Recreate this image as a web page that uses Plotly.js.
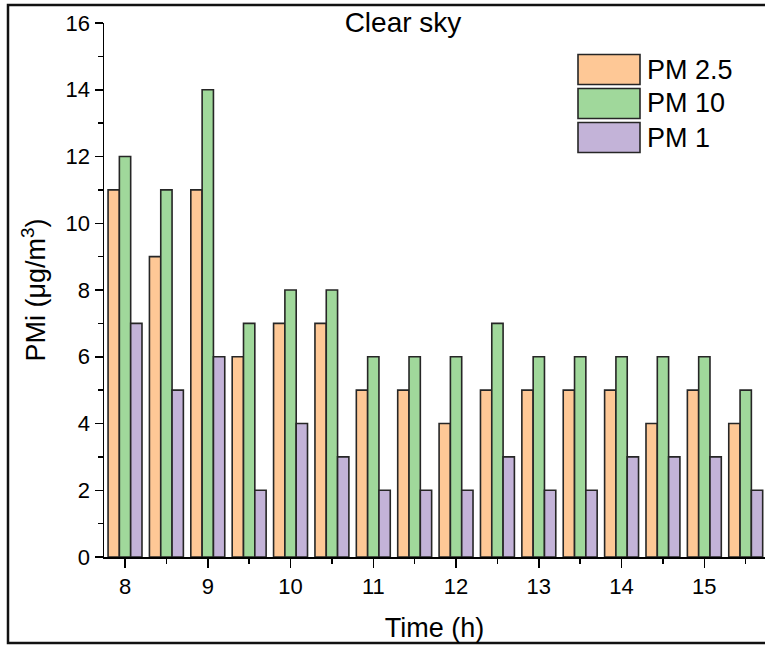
<!DOCTYPE html>
<html>
<head>
<meta charset="utf-8">
<script src="https://cdn.plot.ly/plotly-3.0.1.min.js"></script>
<style>
  html, body { margin: 0; padding: 0; background: #fff; }
  #chart { width: 765px; height: 646px; }
</style>
</head>
<body>
<div id="chart"></div>
<script>
// ---- data ----
const times = [8, 8.5, 9, 9.5, 10, 10.5, 11, 11.5, 12, 12.5, 13, 13.5, 14, 14.5, 15, 15.5];
const pm25  = [11, 9, 11, 6, 7, 7, 5, 5, 4, 5, 5, 5, 5, 4, 5, 4];
const pm10  = [12, 11, 14, 7, 8, 8, 6, 6, 6, 7, 6, 6, 6, 6, 6, 5];
const pm1   = [7, 5, 6, 2, 4, 3, 2, 2, 2, 3, 2, 2, 3, 3, 3, 2];
const seriesNames = ['PM 2.5', 'PM 10', 'PM 1'];
const xTickVals = [8, 9, 10, 11, 12, 13, 14, 15];
const yTickVals = [0, 2, 4, 6, 8, 10, 12, 14, 16];

// ---- styling ----
const FONT = 'Liberation Sans, Arial, Helvetica, sans-serif';
const colors = ['#FEC896', '#A0D89B', '#C3B3D8'];
const edge = { color: '#262626', width: 1.6 };
const seriesValues = [pm25, pm10, pm1];

const traces = seriesValues.map((vals, i) => ({
  type: 'bar',
  x: times,
  y: vals,
  name: seriesNames[i],
  marker: { color: colors[i], line: edge },
  showlegend: false,
  hoverinfo: 'x+y+name'
}));

// plot area in pixels: x 104..765, y 23..557
const L = 104, R = 765, T = 23, B = 557;
const px = v => (v - L) / (R - L);
const py = v => (B - v) / (B - T);

// custom legend (large swatches like the original)
const legendCenters = [69.5, 103.5, 137.5];
const shapes = [];
const annotations = [];
legendCenters.forEach((c, i) => {
  shapes.push({
    type: 'rect', xref: 'paper', yref: 'paper',
    x0: px(578), x1: px(640), y0: py(c + 15), y1: py(c - 15),
    fillcolor: colors[i], line: { color: '#262626', width: 1.6 }
  });
  annotations.push({
    xref: 'paper', yref: 'paper', x: px(645), y: py(c),
    xanchor: 'left', yanchor: 'middle', showarrow: false,
    text: seriesNames[i], font: { family: FONT, size: 27, color: '#000' }
  });
});
// outer frame
shapes.push({
  type: 'rect', xref: 'paper', yref: 'paper', layer: 'above',
  x0: px(8), x1: px(770), y0: py(643), y1: py(5),
  line: { color: '#111', width: 2.5 }, fillcolor: 'rgba(0,0,0,0)'
});

const layout = {
  width: 765, height: 646,
  margin: { l: L, r: 765 - R, t: T, b: 646 - B, pad: 0 },
  paper_bgcolor: '#fff', plot_bgcolor: '#fff',
  font: { family: FONT, color: '#000' },
  barmode: 'group', bargap: 0.18, bargroupgap: 0,
  showlegend: false,
  title: {
    text: 'Clear sky', xref: 'container', yref: 'container',
    x: 403 / 765, y: 1 - 22 / 646, xanchor: 'center', yanchor: 'middle',
    font: { family: FONT, size: 28, color: '#000' }
  },
  xaxis: {
    range: [7.746, 15.733], tickmode: 'array', tickvals: xTickVals,
    ticks: 'outside', ticklen: 9, tickwidth: 1.5, tickcolor: '#000',
    minor: { dtick: 0.5, tick0: 8, ticks: 'outside', ticklen: 5, tickwidth: 1.5, tickcolor: '#000' },
    showline: true, linecolor: '#000', linewidth: 1.5,
    showgrid: false, zeroline: false,
    tickfont: { family: FONT, size: 22, color: '#000' },
    title: { text: 'Time (h)', standoff: 20, font: { family: FONT, size: 27, color: '#000' } }
  },
  yaxis: {
    range: [0, 16], tickmode: 'array', tickvals: yTickVals,
    ticks: 'outside', ticklen: 8, tickwidth: 1.5, tickcolor: '#000',
    minor: { dtick: 1, tick0: 0, ticks: 'outside', ticklen: 5, tickwidth: 1.5, tickcolor: '#000' },
    showline: true, linecolor: '#000', linewidth: 1.5,
    showgrid: false, zeroline: false,
    tickfont: { family: FONT, size: 22, color: '#000' },
    title: { text: 'PMi (μg/m<sup>3</sup>)', standoff: 12, font: { family: FONT, size: 27, color: '#000' } }
  },
  shapes: shapes,
  annotations: annotations
};

Plotly.newPlot('chart', traces, layout, { displayModeBar: false, staticPlot: true });
</script>
</body>
</html>
